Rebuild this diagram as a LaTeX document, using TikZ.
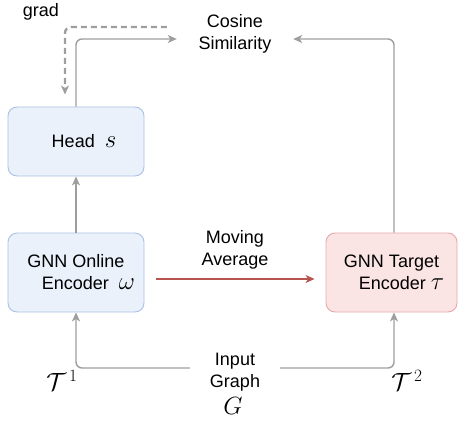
\documentclass[tikz,border=0pt]{standalone}
\usepackage[no-math]{fontspec}
\setmainfont{Liberation Sans}
\usetikzlibrary{arrows.meta}
\definecolor{arrowgray}{HTML}{9E9E9E}
\definecolor{bluefill}{HTML}{EAF1FB}
\definecolor{blueedge}{HTML}{A9C2E6}
\definecolor{redfill}{HTML}{FBE4E4}
\definecolor{rededge}{HTML}{E8A9A9}
\definecolor{redarrow}{HTML}{B85450}
\newcommand{\mymath}[1]{{\fontsize{25}{22}\selectfont$#1$}}
\begin{document}
\begin{tikzpicture}[x=1pt,y=-1pt,
  box/.style={draw, rounded corners=9pt, line width=0.9pt, align=center,
    font=\fontsize{18}{22}\selectfont, inner sep=0pt},
  bluebox/.style={box, draw=blueedge, fill=bluefill},
  redbox/.style={box, draw=rededge, fill=redfill},
  lbl/.style={align=center, font=\fontsize{18}{22}\selectfont, inner sep=0pt},
  mathlbl/.style={font=\fontsize{25}{28}\selectfont, inner sep=0pt},
  conn/.style={draw=arrowgray, line width=1.4pt, rounded corners=6pt,
    -{Stealth[length=9pt,width=8pt,inset=2.5pt]}},
  gradconn/.style={conn, line width=2.4pt, dash pattern=on 6pt off 4pt},
  maconn/.style={draw=redarrow, line width=1.2pt,
    -{Stealth[length=9pt,width=8pt,inset=2.5pt]}}
]
\useasboundingbox (0,0) rectangle (458,423);

\node[bluebox, minimum width=136pt, minimum height=69pt] (head) at (76,141.5)
  {\hspace*{16pt}Head~~\mymath{s}};
\node[bluebox, minimum width=136pt, minimum height=79pt] (online) at (76,272.5)
  {GNN Online\\\hspace*{25pt}Encoder~~\mymath{\omega}};
\node[redbox, minimum width=131pt, minimum height=79pt] (target) at (391.5,272.5)
  {GNN Target\\\hspace*{20pt}Encoder \mymath{\tau}};

\node[lbl, minimum width=116pt] (cos) at (235,34) {Cosine\\Similarity};
\node[lbl] (grad) at (41,12) {grad};
\node[lbl] (ma) at (235,250) {Moving\\Average};
\node[lbl, minimum width=90pt] (inp) at (235,372) {Input\\Graph};
\node[mathlbl] (G) at (233,406) {$G$};
\node[mathlbl] (t1) at (62,380) {$\mathcal{T}^{\,1}$};
\node[mathlbl] (t2) at (407,380) {$\mathcal{T}^{\,2}$};

\draw[conn] (head.north) |- ([yshift=-5pt]cos.west);
\draw[conn] ([xshift=2.5pt]target.north) |- ([yshift=-5pt]cos.east);
\draw[gradconn] ([xshift=-10pt,yshift=7pt]cos.west) -| ([xshift=-11pt,yshift=12pt]head.north);
\draw[conn] (online.north) -- (head.south);
\draw[maconn] ([xshift=12pt,yshift=-6.5pt]online.east) -- ([xshift=-11pt,yshift=-6.5pt]target.west);
\draw[conn] ([yshift=4pt]inp.west) -| (online.south);
\draw[conn] ([yshift=4pt]inp.east) -| ([xshift=2.5pt]target.south);
\end{tikzpicture}
\end{document}
